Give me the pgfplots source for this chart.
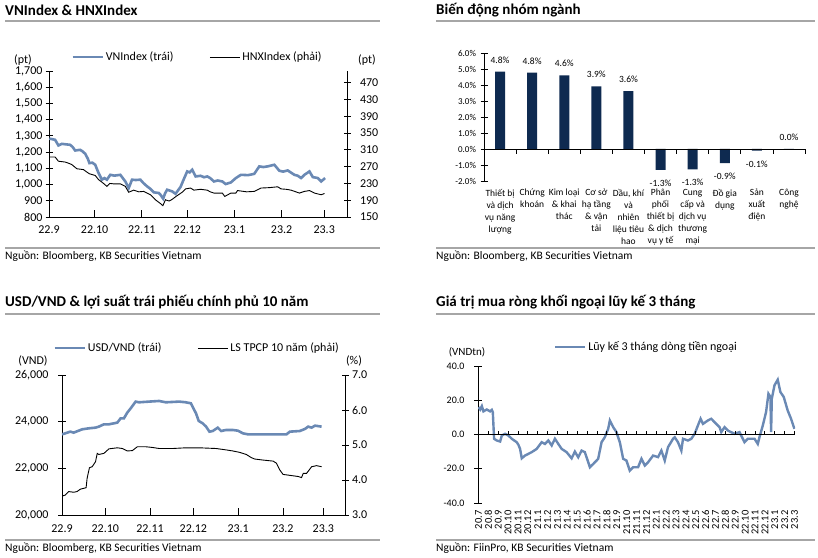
\documentclass[border=0pt]{standalone}
\usepackage{fontspec}
\setmainfont{Carlito}
\usepackage{pgfplots}
\pgfplotsset{compat=1.18}
\definecolor{lineblue}{HTML}{6A89B4}
\definecolor{barnavy}{HTML}{0E2A50}
\definecolor{rulegray}{HTML}{A6A6A6}
\pgfplotsset{
  base/.style={scale only axis, anchor=south west,
    /pgf/number format/assume math mode=true,
    scaled ticks=false,
    axis line style={black, line width=0.8pt},
    tick style={black, line width=0.8pt},
    legend cell align=left},
  bigfont/.style={ticklabel style={font=\fontsize{12}{14}\selectfont}},
  leg/.style={legend style={draw=none, fill=none, legend columns=2,
      font=\fontsize{12}{14}\selectfont,
      /tikz/every even column/.append style={column sep=34pt}},
    legend image code/.code={\draw[##1] (0pt,0pt) -- (30pt,0pt);}},
}
\begin{document}
\begin{tikzpicture}[x=1pt,y=1pt]
\path[use as bounding box] (0,0) rectangle (818,557);
% ---------- titles, rules, sources
\tikzset{ttl/.style={anchor=west, font=\bfseries\fontsize{15}{17}\selectfont, inner sep=0pt},
         src/.style={anchor=west, font=\fontsize{11.5}{13}\selectfont, inner sep=0pt}}
\node[ttl] at (5,547) {VNIndex \& HNXIndex};
\node[ttl] at (436,547) {Biến động nhóm ngành};
\node[ttl] at (5,255) {USD/VND \& lợi suất trái phiếu chính phủ 10 năm};
\node[ttl] at (436,255) {Giá trị mua ròng khối ngoại lũy kế 3 tháng};
\draw[rulegray, line width=1.2pt] (5,536) -- (380,536);
\draw[rulegray, line width=1.2pt] (436,536) -- (815,536);
\draw[rulegray, line width=1.2pt] (5,309) -- (380,309);
\draw[rulegray, line width=1.2pt] (436,309) -- (815,309);
\draw[rulegray, line width=1.2pt] (5,243) -- (380,243);
\draw[rulegray, line width=1.2pt] (436,243) -- (815,243);
\draw[rulegray, line width=1.2pt] (5,17) -- (380,17);
\draw[rulegray, line width=1.2pt] (436,17) -- (815,17);
\node[src] at (5,301) {Nguồn: Bloomberg, KB Securities Vietnam};
\node[src] at (436,301) {Nguồn: Bloomberg, KB Securities Vietnam};
\node[src] at (5,9) {Nguồn: Bloomberg, KB Securities Vietnam};
\node[src] at (436,9) {Nguồn: FiinPro, KB Securities Vietnam};
% unit labels
\node[font=\fontsize{12}{14}\selectfont] at (23,497) {(pt)};
\node[font=\fontsize{12}{14}\selectfont] at (367,497) {(pt)};
\node[font=\fontsize{12}{14}\selectfont] at (33,196) {(VND)};
\node[font=\fontsize{12}{14}\selectfont] at (354,196) {(\%)};
\node[font=\fontsize{11}{13}\selectfont] at (467,205) {(VNDtn)};

% ================= Panel 1: VNIndex & HNXIndex
\begin{axis}[base, bigfont, leg, at={(49pt,340pt)}, width=298pt, height=146pt,
  xmin=0, xmax=196, ymin=800, ymax=1700,
  axis x line*=bottom, axis y line*=left,
  xtick={0,30,61,91,122,153,181},
  xticklabels={22.9,22.10,22.11,22.12,23.1,23.2,23.3},
  ytick={800,900,...,1700},
  tick align=inside, major tick length=7pt,
  ytick style={xshift=-3.5pt},
  yticklabel style={xshift=-3pt},
  xticklabel style={yshift=-5pt},
  legend style={at={(0.498,1.096)}, anchor=center}]
\addplot[lineblue, line width=2.6pt] coordinates {
(0.2,1283) (2,1280) (4,1276) (6.2,1241) (8.4,1251) (11,1248) (13.9,1245) (15.5,1232) (17.2,1210) (20.5,1214) (22,1205) (23.8,1190) (25.5,1160) (26.6,1132) (28.5,1135) (30.4,1122) (32.6,1071) (34.8,1030) (36.5,1040) (38.1,1030) (40.3,1060) (43,1055) (46.9,1060) (48.5,1040) (50.2,1019) (52.4,978) (54.6,1030) (57,1028) (60.1,1030) (62,1010) (64.5,989) (66.5,975) (68.9,952) (72.2,948) (73.5,935) (75.1,913) (76.3,945) (77.7,968) (81,958) (83.2,943) (86.5,985) (88.7,1034) (90.9,1081) (92.5,1075) (94.2,1091) (96.4,1050) (99.7,1054) (102,1045) (104.1,1050) (106,1040) (108.5,1019) (111,1025) (114,1019) (116.2,1003) (119.6,1013) (122.9,1040) (126.2,1060) (131,1058) (135,1066) (138.3,1112) (141,1108) (143.8,1112) (148.2,1122) (151.5,1085) (154,1080) (157,1087) (161.4,1060) (163.5,1055) (165.8,1040) (168,1060) (171.3,1081) (173.5,1046) (176.8,1040) (179,1019) (181.6,1040)};
\addlegendentry{VNIndex (trái)}
\addlegendimage{black, line width=0.9pt}
\addlegendentry{HNXIndex (phải)}
\end{axis}
\begin{axis}[base, bigfont, at={(49pt,340pt)}, width=298pt, height=146pt,
  xmin=0, xmax=196, ymin=150, ymax=498,
  axis x line=none, axis y line*=right,
  ytick={150,190,...,470}, xtick=\empty,
  tick align=center, major tick length=7pt,
  yticklabel style={xshift=6pt}]
\addplot[black, line width=0.9pt] coordinates {
(0.2,293) (4,293) (6.2,283) (10.6,281) (13,278) (15,275) (18.3,265) (22.7,263) (24.5,258) (26.6,253) (30.4,249) (32.6,239) (34.8,233) (36.5,228) (38.1,223) (40,230) (42.5,229) (46.9,229) (50.2,223) (52.4,209) (55.7,214) (59,210) (62.3,211) (66.7,203) (70,191) (73.3,182) (74.9,177) (76.6,191) (79,188) (81,192) (84.3,201) (87.6,209) (89.8,217) (93.1,219) (95.3,214) (99.7,216) (104.1,214) (106,210) (108.5,207) (114,207) (115.6,199) (119.6,207) (122.9,207) (124,213) (130,210) (135,211) (139.4,219) (145,220) (150.4,222) (152.6,217) (156,216) (159.2,214) (164.7,207) (168,211) (171.3,213) (174.6,207) (179,203) (181.2,206)};
\end{axis}

% ================= Panel 2: bars
\begin{axis}[base, at={(484pt,376pt)}, width=321pt, height=128pt,
  xmin=-0.5, xmax=9.5, ymin=-2, ymax=6,
  axis y line*=left, axis x line*=bottom,
  x axis line style={draw=none}, xtick style={draw=none},
  ytick={-2,-1,...,6},
  yticklabel={\pgfmathprintnumber[fixed,fixed zerofill,precision=1]{\tick}\%},
  yticklabel style={font=\fontsize{9}{11}\selectfont, xshift=-1pt},
  tick align=center, major tick length=7pt,
  xtick={0,...,9},
  xticklabels={{Thiết bị\\và dịch\\vụ năng\\lượng},{Chứng\\khoán},{Kim loại\\\& khai\\thác},{Cơ sở\\hạ tầng\\\& vận\\tải},{Dầu, khí\\và\\nhiên\\liệu tiêu\\hao},{Phân\\phối\\thiết bị\\\& dịch\\vụ y tế},{Cung\\cấp và\\dịch vụ\\thương\\mại},{Đồ gia\\dụng},{Sản\\xuất\\điện},{Công\\nghệ}},
  xticklabel style={align=center, font=\fontsize{9.5}{12}\selectfont, yshift=-1pt},
  point meta=explicit symbolic,
  nodes near coords,
  every node near coord/.append style={font=\fontsize{9.5}{11}\selectfont, black}]
\addplot[ybar, bar width=10pt, bar shift=0pt, fill=barnavy, draw=none,
  every node near coord/.append style={anchor=south, yshift=5pt}] coordinates {
(0,4.83)[4.8\%] (1,4.77)[4.8\%] (2,4.6)[4.6\%] (3,3.92)[3.9\%] (4,3.62)[3.6\%] (9,0.0)[0.0\%]};
\addplot[ybar, bar width=10pt, bar shift=0pt, fill=barnavy, draw=none,
  every node near coord/.append style={anchor=north, yshift=-6.5pt}] coordinates {
(5,-1.3)[-1.3\%] (6,-1.28)[-1.3\%] (7,-0.88)[-0.9\%] (8,-0.1)[-0.1\%]};
\end{axis}
\begin{axis}[base, at={(484pt,376pt)}, width=321pt, height=128pt,
  xmin=-0.5, xmax=9.5, ymin=-2, ymax=6,
  axis x line*=middle, axis y line=none,
  xtick={0.5,1.5,...,9.5}, xticklabels={}, ytick=\empty,
  tick align=center, major tick length=5pt, xtick style={yshift=-2.5pt}]
\end{axis}

% ================= Panel 3: USD/VND & yield
\begin{axis}[base, bigfont, leg, at={(62pt,42pt)}, width=283pt, height=140pt,
  xmin=0, xmax=196, ymin=20000, ymax=26000,
  axis x line*=bottom, axis y line*=left,
  xtick={0,30,61,91,122,153,181},
  xticklabels={22.9,22.10,22.11,22.12,23.1,23.2,23.3},
  ytick={20000,22000,24000,26000},
  tick align=inside, major tick length=7pt,
  ytick style={xshift=-3.5pt},
  yticklabel style={xshift=-10pt},
  xticklabel style={yshift=-6pt},
  legend style={at={(0.477,1.193)}, anchor=center}]
\addplot[lineblue, line width=2.6pt] coordinates {
(0,23458) (2.3,23500) (5.8,23572) (8.1,23530) (11.6,23615) (13.9,23672) (18.6,23715) (23.2,23744) (25.5,23787) (29,23887) (32.5,23887) (38.3,23958) (40.6,24144) (42.9,24144) (45.2,24387) (47.6,24573) (51,24860) (53.4,24830) (60.3,24860) (67.3,24887) (71.9,24830) (81.2,24860) (85.8,24830) (89.3,24787) (91.6,24501) (92.8,24358) (94.7,24030) (97.4,23930) (99.8,23787) (102.1,23572) (104.4,23600) (107.9,23744) (110.2,23600) (113.7,23644) (118.3,23644) (121.8,23615) (125.3,23501) (128.8,23458) (136.9,23458) (148.5,23458) (155.5,23458) (157.8,23572) (164.7,23600) (168.2,23686) (170.5,23787) (172.9,23744) (175.2,23830) (179.8,23787)};
\addlegendentry{USD/VND (trái)}
\addlegendimage{black, line width=0.9pt}
\addlegendentry{LS TPCP 10 năm (phải)}
\end{axis}
\begin{axis}[base, bigfont, at={(62pt,42pt)}, width=283pt, height=140pt,
  xmin=0, xmax=196, ymin=3, ymax=7,
  axis x line=none, axis y line*=right,
  ytick={3,4,5,6,7}, xtick=\empty,
  yticklabel={\pgfmathprintnumber[fixed,fixed zerofill,precision=1]{\tick}},
  tick align=center, major tick length=7pt]
\addplot[black, line width=0.9pt] coordinates {
(0,3.54) (2.3,3.57) (4.6,3.67) (8.1,3.65) (10.4,3.67) (12.8,3.74) (16.7,3.78) (17.4,4.05) (19,4.35) (20.9,4.38) (23.2,4.52) (24.4,4.76) (25.5,4.73) (29,4.76) (32.5,4.89) (38.3,4.92) (41.8,4.90) (45.2,4.83) (48.7,4.84) (52.2,4.95) (58,4.95) (62.6,4.93) (67.3,4.90) (76.6,4.90) (85.8,4.92) (95.1,4.92) (106.7,4.90) (113.7,4.86) (118.3,4.83) (123,4.79) (127.6,4.73) (131.1,4.64) (133.4,4.60) (139.2,4.57) (146.2,4.54) (148.5,4.48) (150.8,4.29) (153.1,4.16) (156.6,4.14) (160.1,4.12) (163.6,4.10) (165.9,4.07) (167.1,4.19) (169.4,4.19) (172.9,4.38) (176.3,4.41) (179.8,4.38)};
\end{axis}

% ================= Panel 4: foreign flows
\begin{axis}[base, leg, at={(478pt,54pt)}, width=317pt, height=137pt,
  xmin=-0.05, xmax=32.05, ymin=-40, ymax=40,
  axis y line*=left, axis x line*=bottom,
  x axis line style={draw=none}, xtick style={draw=none},
  ytick={-40,-20,0,20,40},
  yticklabel={\pgfmathprintnumber[fixed,fixed zerofill,precision=1]{\tick}},
  yticklabel style={font=\fontsize{10}{12}\selectfont, xshift=-6pt},
  tick align=center, major tick length=8pt,
  xtick={0,...,32},
  xticklabels={20.7,20.8,20.9,20.10,20.11,20.12,21.1,21.2,21.3,21.4,21.5,21.6,21.7,21.8,21.9,21.10,21.11,21.12,22.1,22.2,22.3,22.4,22.5,22.6,22.7,22.8,22.9,22.10,22.11,22.12,23.1,23.2,23.3},
  xticklabel style={rotate=90, anchor=east, font=\fontsize{10.5}{12}\selectfont},
  legend style={at={(0.531,1.139)}, anchor=center}]
\addplot[lineblue, line width=2.4pt] coordinates {
(0,16) (0.17,14.6) (0.34,16.6) (0.5,13.5) (0.84,14.6) (1.18,13.5) (1.35,14.4) (1.45,13) (1.58,-2.5) (1.85,-3.5) (2.19,-4.1) (2.36,-0.6) (2.69,0.4) (3.03,-0.6) (3.37,-2.5) (3.87,-4.5) (4.04,-6) (4.21,-8.4) (4.38,-13.9) (4.71,-12.3) (5.39,-10.3) (5.89,-8.4) (6.4,-4.5) (6.73,-5.5) (7.07,-3.5) (7.41,-6.4) (7.74,-2.5) (8.08,-5.5) (8.42,-8.4) (8.92,-10.3) (9.43,-13.9) (9.76,-10) (10.1,-13.3) (10.44,-9.4) (10.77,-10.3) (11.28,-19.1) (11.62,-17.2) (12.12,-14.2) (12.46,-4.5) (12.79,-1.6) (13.13,3.3) (13.3,8.2) (13.64,4.3) (13.97,1.4) (14.31,-4.5) (14.65,-14.2) (14.98,-15.2) (15.32,-21.1) (15.66,-19.1) (16.16,-19.1) (16.5,-14.2) (16.84,-18.1) (17.17,-16.2) (17.68,-12.3) (18.18,-13.2) (18.52,-9.4) (18.86,-15.2) (19.19,-7.4) (19.7,-2.5) (19.87,-1.6) (20.2,-4.5) (20.54,-9.4) (20.71,-2.5) (21.21,-3.5) (21.55,-2.5) (21.89,0.4) (22.22,5.3) (22.49,9.2) (22.73,6.2) (23.23,8.2) (23.57,9.2) (24.07,6.2) (24.41,4.3) (24.58,1.4) (24.92,4.3) (25.25,2.3) (25.93,0.4) (26.43,1.4) (26.94,-4.5) (27.27,-2.5) (27.95,-2.5) (28.28,-5.5) (28.45,-1.6) (28.79,5.3) (29.12,13.1) (29.36,23.8) (29.56,22) (29.63,1.4) (29.7,20.9) (29.97,28.7) (30.3,32) (30.57,24.8) (30.91,21.9) (31.31,14) (31.65,9.2) (31.99,3.3)};
\addlegendentry{Lũy kế 3 tháng dòng tiền ngoại}
\end{axis}
\begin{axis}[base, at={(478pt,54pt)}, width=317pt, height=137pt,
  xmin=-0.05, xmax=32.05, ymin=-40, ymax=40,
  axis x line*=middle, axis y line=none,
  xtick={0,...,32}, xticklabels={}, ytick=\empty,
  tick align=center, major tick length=4pt, xtick style={yshift=2pt}]
\end{axis}
\end{tikzpicture}
\end{document}
